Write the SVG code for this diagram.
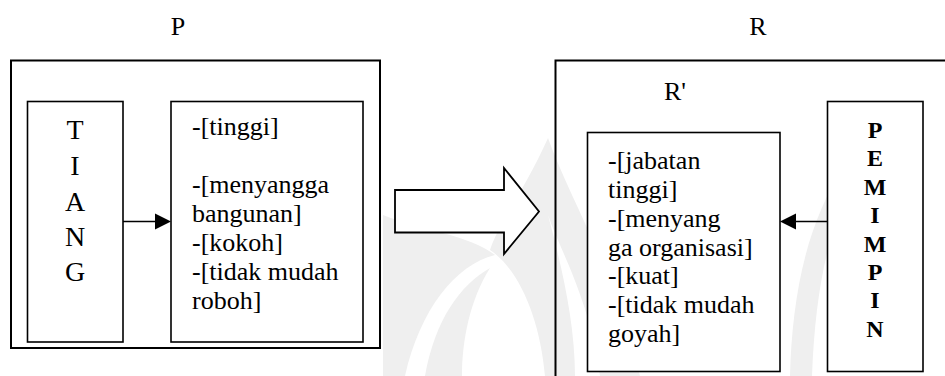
<svg xmlns="http://www.w3.org/2000/svg" width="945" height="376" viewBox="0 0 945 376">
  <style>
    text { font-family: "Liberation Serif", "Times New Roman", serif; font-size: 26px; fill: #000; }
    .mid { text-anchor: middle; }
    .big { font-size: 28px; }
    .bold { font-weight: bold; font-size: 24px; }
    .outer { fill: none; stroke: #000; stroke-width: 2; }
    .box { fill: #fff; stroke: #000; stroke-width: 1.6; }
    .link { stroke: #000; stroke-width: 1.6; fill: none; }
    .head { fill: #000; stroke: none; }
    .mark { fill: #efefef; }
  </style>

  <rect width="945" height="376" fill="#fff"/>

  <!-- faint background emblem -->
  <g id="emblem">
    <path class="mark" d="M548,138 C525,190 500,220 490,250 C520,270 540,320 545,376 L575,376 C575,320 560,260 548,215 C560,250 590,300 600,376 L640,376 C615,270 570,200 548,138 Z"/>
    <path class="mark" d="M383,215 C420,230 470,235 495,255 C455,265 420,310 405,376 L383,376 Z"/>
    <path class="mark" d="M425,376 C435,320 460,285 490,268 C470,300 462,340 462,376 Z"/>
    <path class="mark" d="M845,165 C805,225 792,300 790,376 L812,376 C815,300 825,245 845,200 Z"/>
  </g>

  <!-- left frame: P -->
  <g id="frame-p">
    <text class="mid" x="178" y="35">P</text>
    <rect class="outer" x="11" y="60.5" width="369" height="287.5"/>
  </g>

  <!-- right frame: R -->
  <g id="frame-r">
    <text class="mid" x="758" y="35">R</text>
    <rect class="outer" x="555.5" y="60.5" width="420" height="340"/>
    <text class="mid" x="675" y="100">R'</text>
  </g>

  <g id="tiang">
    <rect class="box" x="27.5" y="101.5" width="95.5" height="240.5"/>
    <text class="mid big" x="75" y="139">T</text>
    <text class="mid big" x="75" y="175">I</text>
    <text class="mid big" x="75" y="211">A</text>
    <text class="mid big" x="75" y="246">N</text>
    <text class="mid big" x="75" y="281">G</text>
  </g>

  <g id="ciri-tiang">
    <rect class="box" x="171" y="101.5" width="192" height="240.5"/>
    <text x="192" y="135">-[tinggi]</text>
    <text x="192" y="193">-[menyangga</text>
    <text x="192" y="222">bangunan]</text>
    <text x="192" y="251">-[kokoh]</text>
    <text x="192" y="280">-[tidak mudah</text>
    <text x="192" y="309">roboh]</text>
  </g>

  <g id="ciri-pemimpin">
    <rect class="box" x="587.5" y="132.5" width="192.5" height="239"/>
    <text x="608" y="169">-[jabatan</text>
    <text x="608" y="198">tinggi]</text>
    <text x="608" y="227">-[menyang</text>
    <text x="608" y="256">ga organisasi]</text>
    <text x="608" y="284">-[kuat]</text>
    <text x="608" y="313">-[tidak mudah</text>
    <text x="608" y="342">goyah]</text>
  </g>

  <g id="pemimpin">
    <rect class="box" x="827.5" y="101.5" width="95.5" height="270"/>
    <text class="mid bold" x="875" y="138">P</text>
    <text class="mid bold" x="875" y="166">E</text>
    <text class="mid bold" x="875" y="195">M</text>
    <text class="mid bold" x="875" y="223">I</text>
    <text class="mid bold" x="875" y="252">M</text>
    <text class="mid bold" x="875" y="280">P</text>
    <text class="mid bold" x="875" y="308">I</text>
    <text class="mid bold" x="875" y="337">N</text>
  </g>

  <g id="connectors">
    <line class="link" x1="123" y1="221.5" x2="157" y2="221.5"/>
    <polygon class="head" points="155,213.5 171,221.5 155,229.5"/>
    <line class="link" x1="827.5" y1="221.5" x2="794" y2="221.5"/>
    <polygon class="head" points="780,221.5 796,213.5 796,229.5"/>
    <polygon fill="#fff" stroke="#000" stroke-width="1.8" stroke-linejoin="miter" points="395,190 504,190 504,168 539,211.5 504,254 504,232.5 395,232.5"/>
  </g>
</svg>
